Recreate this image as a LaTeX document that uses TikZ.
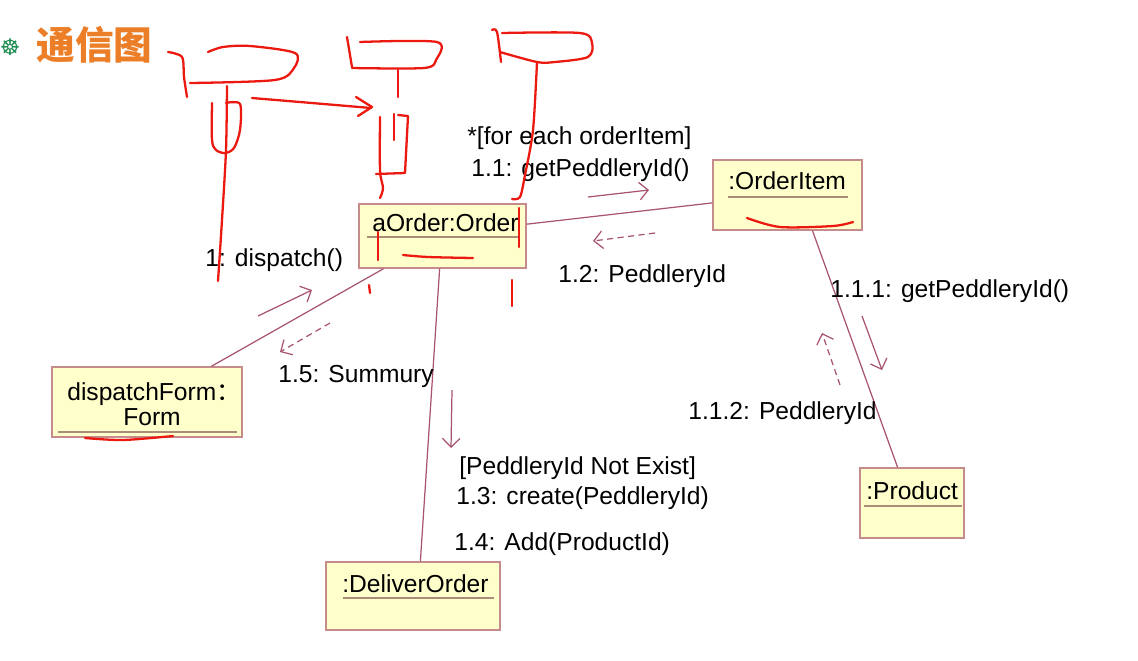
\documentclass[tikz,border=0pt]{standalone}
\usepackage{fontspec}
\setmainfont{Liberation Sans}
\newfontfamily\cjk{Noto Sans CJK SC}
\newfontfamily\symfont{DejaVu Sans}
\usetikzlibrary{arrows.meta}
\definecolor{boxfill}{RGB}{255,255,204}
\definecolor{boxline}{RGB}{198,140,140}
\definecolor{linkcol}{RGB}{168,84,112}
\definecolor{ulcol}{RGB}{170,140,120}
\definecolor{penred}{RGB}{235,25,15}
\definecolor{titlecol}{RGB}{236,126,40}
\definecolor{wheelcol}{RGB}{30,140,80}
\begin{document}
\begin{tikzpicture}[x=0.02cm,y=-0.02cm,
  obj/.style={draw=boxline,fill=boxfill,line width=0.8pt,inner sep=0pt},
  lbl/.style={anchor=base west,inner sep=0pt,font=\fontsize{14}{16}\selectfont},
  link/.style={draw=linkcol,line width=0.7pt},
  msg/.style={linkcol,line width=0.7pt,-{Straight Barb[length=5pt,width=10pt]}},
  ret/.style={msg,dash pattern=on 3.5pt off 2.5pt},
  uline/.style={ulcol,line width=0.8pt},
  pen/.style={penred,line width=1.3pt,line cap=round,line join=round}]
\useasboundingbox[fill=white] (0,0) rectangle (1138,660);

% title
\node [inner sep=0pt,text=wheelcol,font=\symfont\fontsize{13}{13}\selectfont] (wheel) at (10,47) {☸};
\node [anchor=west,inner sep=0pt,text=titlecol,font=\cjk\bfseries\fontsize{22}{24}\selectfont] (title) at (36,45) {通信图};

% objects
\node (order) [obj,minimum width=3.34cm,minimum height=1.28cm] at (442.5,236) {};
\node (item) [obj,minimum width=2.98cm,minimum height=1.4cm] at (787.5,195) {};
\node (form) [obj,minimum width=3.8cm,minimum height=1.4cm] at (147,402) {};
\node (product) [obj,minimum width=2.08cm,minimum height=1.4cm] at (912,503) {};
\node (deliver) [obj,minimum width=3.48cm,minimum height=1.36cm] at (413,596) {};

\node [lbl] (ordername) at (372,231) {aOrder:Order};
\draw [uline] (367,237) -- (520,237);
\node [lbl] (itemname) at (728,189) {:OrderItem};
\draw [uline] (728,197) -- (848,197);
\node [lbl] (formname) at (67,400) {dispatchForm{\cjk：}};
\node [lbl,anchor=base] (formname2) at (152,425) {Form};
\draw [uline] (58,432) -- (237,432);
\node [lbl] (productname) at (866,499) {:Product};
\draw [uline] (864,506) -- (962,506);
\node [lbl] (delivername) at (342,592) {:DeliverOrder};
\draw [uline] (343,598) -- (494,598);

% links
\draw [link] (order.8) -- (item.186);
\draw [link] (order.209) -- (form.29);
\draw [link] (order.265) -- (deliver.78);
\draw [link] (item.-55) -- (product.112);

% messages
\draw [msg] (588,197) -- (649,190);
\draw [ret] (655,233) -- (593,241);
\draw [msg] (258,316) -- (312,290);
\draw [ret] (330,323) -- (280,352);
\draw [msg] (862,316) -- (882,370);
\draw [ret] (840,385) -- (822,333);
\draw [msg] (452,390) -- (451,448);

\node [lbl] (m11a) at (467,144) {*[for each orderItem]};
\node [lbl] (m11b) at (471,176) {1.1: getPeddleryId()};
\node [lbl] (m1) at (205,266) {1: dispatch()};
\node [lbl] (m12) at (558,282) {1.2: PeddleryId};
\node [lbl] (m15) at (278,382) {1.5: Summury};
\node [lbl] (m111) at (830,297) {1.1.1: getPeddleryId()};
\node [lbl] (m112) at (688,419) {1.1.2: PeddleryId};
\node [lbl] (m13a) at (459,474) {[PeddleryId Not Exist]};
\node [lbl] (m13b) at (456,504) {1.3: create(PeddleryId)};
\node [lbl] (m14) at (454,550) {1.4: Add(ProductId)};

% red pen notes
\draw [pen] plot [smooth] coordinates {(168,52) (182,57) (184,77) (187,97)};
\draw [pen] plot [smooth] coordinates {(208,52) (223,47) (250,46) (295,53) (294,68) (275,80) (190,83)};
\draw [pen] plot [smooth] coordinates {(227,86) (226,150) (222,220) (218,281)};
\draw [pen] plot [smooth] coordinates {(212,103) (212,140) (216,150) (225,153) (234,148) (240,130) (240,104) (226,103)};
\draw [pen] plot [smooth] coordinates {(252,98) (300,102) (371,108)};
\draw [pen] (356,97) -- (372,107) -- (358,116);
\draw [pen] (347,37) -- (352,67);
\draw [pen] plot [smooth] coordinates {(360,42) (437,42) (436,60) (424,68) (352,68)};
\draw [pen] (398,70) -- (398,97);
\draw [pen] plot [smooth] coordinates {(380,117) (380,170) (383,188) (380,198)};
\draw [pen] (394,114) -- (394,140);
\draw [pen] (398,115) -- (408,116) -- (405,173) -- (376,174);
\draw [pen] plot [smooth] coordinates {(492,30) (497,32) (501,62)};
\draw [pen] plot [smooth] coordinates {(502,33) (580,33) (592,43) (588,57) (555,62) (537,62) (500,52)};
\draw [pen] plot [smooth] coordinates {(537,62) (533,130) (525,175) (520,197) (512,199)};
\draw [pen] (519,208) -- (519,247);
\draw [pen] (512,280) -- (512,306);
\draw [pen] (378,232) -- (378,260);
\draw [pen] plot [smooth] coordinates {(403,255) (428,257) (473,258)};
\draw [pen] (369,285) -- (370,293);
\draw [pen] plot [smooth] coordinates {(747,218) (780,227) (833,226) (853,222)};
\draw [pen] plot [smooth] coordinates {(85,438) (123,440) (173,436)};
\end{tikzpicture}
\end{document}
